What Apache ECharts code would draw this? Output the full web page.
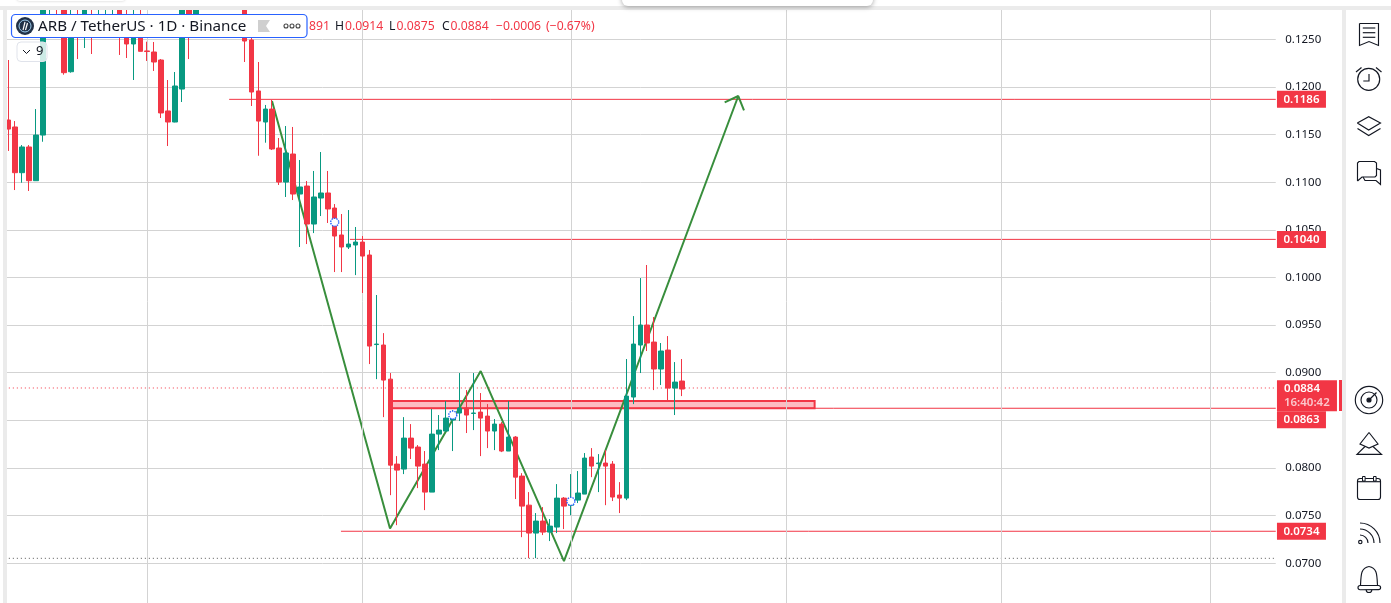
<!DOCTYPE html>
<html>
<head>
<meta charset="utf-8">
<style>html,body{margin:0;padding:0;background:#fff;overflow:hidden}#c{width:1391px;height:603px}</style>
<script src="https://cdn.jsdelivr.net/npm/echarts@6/dist/echarts.min.js"></script>
</head>
<body>
<div id="c"></div>
<script>
// [open, close, low, high], one per daily bar
const candles = [
[.11653,.11558,.11328,.12283],[.11580,.11100,.10918,.11642],[.11100,.11370,.10995,.11390],[.11370,.11016,.10908,.11390],
[.11016,.11495,.11016,.11768],[.11495,.12900,.11425,.12950],[.12577,.12703,.12535,.12829],[.12703,.12598,.12535,.12860],
[.12892,.12150,.12129,.12913],[.12160,.12703,.12150,.12860],[.12745,.12535,.12293,.12860],[.12535,.12892,.12409,.12913],
[.12724,.12556,.12346,.12860],[.12598,.12724,.12535,.12860],[.12588,.12714,.12535,.12850],[.12619,.12703,.12546,.12808],
[.12882,.12556,.12336,.12900],[.12703,.12451,.12304,.12860],[.12451,.12703,.12073,.12860],[.12703,.12374,.12374,.12829],
[.12378,.12372,.12273,.12475],[.12367,.12262,.12168,.12472],[.12283,.11727,.11674,.12293],[.11748,.11632,.11380,.12073],
[.11632,.12010,.11629,.12157],[.11978,.12892,.11842,.12913],[.12892,.12546,.12293,.12913],[.12546,.12892,.12525,.12913],
[.12910,.12950,.12900,.12980],[.12950,.12920,.12900,.12990],[.12920,.12960,.12900,.12990],[.12960,.12930,.12905,.12990],
[.12930,.12950,.12905,.12980],[.12950,.12910,.12900,.12980],
[.12892,.12482,.12262,.12913],[.12493,.11947,.11800,.12514],[.11958,.11642,.11278,.12262],[.11632,.11768,.11415,.11811],
[.11768,.11349,.11338,.11863],[.11359,.11002,.10971,.11464],[.11002,.11307,.10845,.11590],[.11296,.10876,.10813,.11580],
[.10876,.10950,.10320,.11233],[.10960,.10561,.10351,.11013],[.10561,.10845,.10466,.11118],[.10834,.10887,.10645,.11317],
[.10887,.10719,.10572,.11118],[.10729,.10435,.10057,.10771],[.10446,.10320,.10057,.10666],[.10320,.10351,.10299,.10708],
[.10341,.10372,.10025,.10530],[.10372,.10225,.09837,.10435],[.10236,.09280,.09091,.10288],[.09296,.09301,.08933,.09816],
[.09291,.08923,.08534,.09416],[.08933,.08030,.07715,.08997],[.08041,.07978,.07400,.08125],[.07989,.08314,.07936,.08534],
[.08314,.08209,.08094,.08461],[.08220,.08020,.07789,.08241],[.08041,.07747,.07558,.08178],[.07747,.08356,.07747,.08619],
[.08356,.08398,.08188,.08556],[.08388,.08524,.08388,.08703],[.08503,.08577,.08178,.08608],[.08577,.08629,.08493,.08997],
[.08629,.08556,.08367,.08818],[.08573,.08577,.08398,.08997],[.08587,.08524,.08125,.08787],[.08545,.08388,.08209,.08671],
[.08388,.08461,.08188,.08514],[.08461,.08178,.08167,.08482],[.08178,.08325,.08178,.08703],[.08325,.07904,.07674,.08335],
[.07915,.07600,.07274,.07946],[.07610,.07317,.07054,.07747],[.07317,.07443,.07054,.07527],[.07443,.07327,.07296,.07590],
[.07327,.07390,.07233,.07464],[.07380,.07684,.07317,.07831],[.07684,.07600,.07359,.07695],[.07610,.07663,.07505,.07936],
[.07663,.07737,.07632,.07968],[.07726,.08104,.07726,.08157],[.08115,.08020,.07904,.08209],[.08046,.08052,.07747,.08146],
[.08052,.08020,.07610,.08188],[.08041,.07695,.07653,.08073],[.07716,.07684,.07527,.07852],[.07684,.08755,.07663,.09144],
[.08745,.09301,.08671,.09595],[.09291,.09501,.08997,.09994],[.09501,.09312,.09228,.10131],[.09322,.09039,.08818,.09585],
[.09039,.09228,.08871,.09312],[.09238,.08839,.08713,.09385],[.08839,.08902,.08556,.09112],[.08913,.08829,.08755,.09144]
];
const slotCount = 183;
const monthStartBars = [20, 51, 81, 112, 143, 173];
const zigzagBars = [37.97, 54.96, 68.02, 80.01, 105.11];
const zigzagPrices = [.11853, .07366, .09018, .07023, .11905];
const arrowBars = [103.15, 105.11, 105.93];
const arrowPrices = [.11839, .11905, .11755];
const levelPrices = [.1187, .1040, .08627, .07336];
const levelStartBars = [31.8, 49.2, 55.2, 47.9];
const levelTexts = ['0.1186', '0.1040', '0.0863', '0.0734'];
const zoneBars = [55.2, 116.1];
const zonePrices = [.08704, .08627];
const lastPrice = .0884;
const lowDotted = .07052;
const dotBars = [47, 64, 81];
const dotPrices = [.1058, .08556, .0765];

const RED = '#f23645', GREEN = '#089981', INK = '#131722';
const FONT = '"Noto Sans", sans-serif';
const xMin = -0.5, xMax = slotCount - 0.5;
const tagBar = 186.2; // centre of the price tags, in bar units beyond the right edge

const chart = echarts.init(document.getElementById('c'), null, {renderer: 'canvas'});

const overlayLine = (bars, prices, color, width, extra) => Object.assign({
  type: 'line', xAxisIndex: 1, yAxisIndex: 0, data: bars.map((b, i) => [b, prices[i]]),
  showSymbol: false, symbol: 'none', silent: true, animation: false, z: 2,
  lineStyle: {color, width}
}, extra || {});

const levelSeries = levelPrices.map((p, i) =>
  overlayLine([levelStartBars[i], xMax], [p, p], RED, 1));

const dotted = (p, color) => overlayLine([xMin, xMax], [p, p], color, 1,
  {lineStyle: {color, width: 1, type: [1, 3]}});

const tagSeries = (val, text, offset) => ({
  type: 'scatter', xAxisIndex: 1, yAxisIndex: 0, clip: false, silent: true, animation: false, z: 20,
  data: [[tagBar, val]], symbol: 'rect', symbolSize: [49, 17], symbolOffset: offset,
  itemStyle: {color: RED, opacity: 1},
  label: {show: true, position: 'inside', formatter: text, color: '#fff', fontFamily: FONT, fontSize: 11.5, fontWeight: 600}
});

const G = [];
const rect = (x, y, w, h, fill, o) => G.push(Object.assign({type: 'rect', z: 100, silent: true,
  shape: {x, y, width: w, height: h, r: (o && o.r) || 0},
  style: Object.assign({fill}, (o && o.style) || {})}));
const text = (x, y, t, color, size, o) => G.push({type: 'text', z: 102, silent: true, x, y,
  style: Object.assign({text: t, fill: color, font: `${(o && o.weight) || 400} ${size}px ${FONT}`, textVerticalAlign: 'middle', textAlign: 'left'}, (o && o.style) || {})});
const stroke = {stroke: INK, lineWidth: 1.15, fill: 'none'};
const pl = (pts, st) => G.push({type: 'polyline', z: 101, silent: true, shape: {points: pts}, style: Object.assign({}, stroke, st || {})});
const circ = (cx, cy, r, st) => G.push({type: 'circle', z: 101, silent: true, shape: {cx, cy, r}, style: Object.assign({}, stroke, st || {})});
const arc = (cx, cy, r, a, b, st) => G.push({type: 'arc', z: 101, silent: true, shape: {cx, cy, r, startAngle: a, endAngle: b, clockwise: true}, style: Object.assign({}, stroke, st || {})});
const bez = (x1, y1, cpx1, cpy1, cpx2, cpy2, x2, y2) => G.push({type: 'bezierCurve', z: 101, silent: true, shape: {x1, y1, cpx1, cpy1, cpx2, cpy2, x2, y2}, style: Object.assign({}, stroke)});

// window chrome
rect(0, 0, 1391, 6, '#fff');
rect(0, 6, 1391, 4, '#ebebeb');
rect(0, 10, 3, 593, '#fff');
rect(3, 6, 4, 597, '#ebebeb');
rect(1342, 6, 4, 597, '#ebebeb');
rect(1346, 10, 45, 593, '#fff');
rect(622, -12, 251, 18, '#fff', {r: 6, style: {shadowBlur: 5, shadowColor: 'rgba(0,0,0,.35)', shadowOffsetY: 1}});
rect(17, -5, 108, 6, '#fff', {r: 4, style: {shadowBlur: 3, shadowColor: 'rgba(0,0,0,.2)'}});

// legend
rect(11.5, 14.5, 295.5, 23, '#fff', {r: 4, style: {stroke: '#2962ff', lineWidth: 1.2}});
circ(25, 26, 9, {fill: '#213147', stroke: 'none'});
circ(25, 26, 6, {fill: 'none', stroke: '#9dcced', lineWidth: 1});
pl([[23, 30], [25, 22]], {stroke: '#fff', lineWidth: 1.2});
pl([[25.5, 30], [27.5, 23]], {stroke: '#fff', lineWidth: 1.2});
text(38, 26.5, 'ARB / TetherUS · 1D · Binance', INK, 15.2);
G.push({type: 'polygon', z: 101, silent: true, shape: {points: [[258, 20], [270, 20], [266, 26], [270, 32], [258, 32]]}, style: {fill: '#cfcfcf'}});
[286, 292, 298].forEach(x => circ(x, 26, 2, {stroke: '#444', lineWidth: 1.1}));
text(309, 26.5, '891', RED, 12.2);
text(335, 26.5, 'H', INK, 12.2);
text(345, 26.5, '0.0914', RED, 12.2);
text(389, 26.5, 'L', INK, 12.2);
text(396.5, 26.5, '0.0875', RED, 12.2);
text(442, 26.5, 'C', INK, 12.2);
text(450.5, 26.5, '0.0884', RED, 12.2);
text(496, 26.5, '−0.0006', RED, 12.2);
text(546, 26.5, '(−0.67%)', RED, 12.2);

// collapsed indicators button
rect(17, 42, 30, 19.5, 'rgba(255,255,255,.8)', {r: 4, style: {stroke: '#e0e3eb', lineWidth: 1}});
pl([[23, 50], [26.5, 53.5], [30, 50]], {lineWidth: 1});
text(36, 51.5, '9', INK, 13);

// countdown strip end
rect(1339, 380, 3, 31, RED);

// right toolbar icons
pl([[1359.5, 23.5], [1378.5, 23.5], [1378.5, 45.5], [1369, 41.5], [1359.5, 45.5], [1359.5, 23.5]]);
[28, 32.7, 37.3].forEach(y => pl([[1362.8, y], [1375.3, y]]));
circ(1368.7, 79.3, 11);
pl([[1369, 74], [1369, 81], [1363.3, 81]]);
pl([[1356, 72], [1361.5, 67.5]]);
pl([[1376, 67.5], [1381.5, 72]]);
pl([[1357.3, 123], [1368.7, 116.7], [1380.5, 123], [1368.7, 130], [1357.3, 123]]);
pl([[1357.5, 128.5], [1368.7, 135.5], [1380.5, 128.5]]);
pl([[1357.5, 181], [1357.5, 163], [1359, 161.5], [1374.5, 161.5], [1376.5, 163], [1376.5, 175.5], [1375, 177], [1362, 177], [1357.5, 181]]);
pl([[1376.5, 168.5], [1380.5, 170], [1380.5, 184.5], [1376, 180.5], [1365, 180.5], [1363, 177]]);
circ(1369, 400, 13.7);
circ(1369, 400, 8);
circ(1369, 400, 2, {fill: INK});
pl([[1369, 400], [1376.5, 392.5]]);
pl([[1369, 432.5], [1378, 444], [1369, 448], [1360, 444], [1369, 432.5]]);
pl([[1365, 446.5], [1357, 454.3], [1381.5, 454.3], [1373, 446.5]]);
rect(1357.5, 478.5, 23, 21, 'none', {r: 2.5, style: {stroke: INK, lineWidth: 1.15}});
pl([[1357.5, 481.7], [1380.5, 481.7]]);
rect(1362.5, 476.5, 2.6, 4.5, '#fff', {style: {stroke: INK, lineWidth: 1}});
rect(1373.5, 476.5, 2.6, 4.5, '#fff', {style: {stroke: INK, lineWidth: 1}});
circ(1360.3, 542, 1.7);
arc(1360, 543, 8, -Math.PI / 2, 0);
arc(1360, 543, 14, -Math.PI / 2, 0);
arc(1360, 543, 20, -Math.PI / 2, 0);
bez(1360.5, 585.5, 1361, 574, 1361, 568, 1369, 566.5);
bez(1369, 566.5, 1377, 568, 1377, 574, 1377.5, 585.5);
rect(1358, 585.5, 22.6, 4.2, 'none', {r: 2.1, style: {stroke: INK, lineWidth: 1.15}});
arc(1369, 589.7, 2.8, 0, Math.PI);

chart.setOption({
  animation: false,
  backgroundColor: '#fff',
  grid: {left: 4.83, width: slotCount * 6.945, top: -8.3, height: 619.2, containLabel: false, outerBoundsMode: 'none'},
  xAxis: [
    {type: 'category', data: Array.from({length: slotCount}, (_, i) => i), show: false, boundaryGap: true},
    {type: 'value', min: xMin, max: xMax, show: false, splitLine: {show: false}}
  ],
  yAxis: [{
    type: 'value', position: 'right', min: 0.065, max: 0.13, interval: 0.005, scale: true,
    axisLine: {show: false}, axisTick: {show: false},
    splitLine: {show: true, lineStyle: {color: '#d3d3d3', width: 1}},
    axisLabel: {margin: 9.5, color: INK, fontFamily: FONT, fontSize: 11.5, formatter: v => v.toFixed(4)}
  }],
  graphic: {elements: G},
  series: [
    {type: 'line', xAxisIndex: 1, yAxisIndex: 0, data: [], silent: true, z: 1, animation: false,
      markLine: {silent: true, symbol: 'none', animation: false, label: {show: false},
        lineStyle: {color: '#d3d3d3', width: 1, type: 'solid'},
        data: monthStartBars.map(b => ({xAxis: b}))}},
    dotted(lastPrice, RED),
    dotted(lowDotted, '#555'),
    ...levelSeries,
    {type: 'line', xAxisIndex: 1, yAxisIndex: 0, data: [], silent: true, z: 2, animation: false,
      markArea: {silent: true, animation: false, label: {show: false},
        itemStyle: {color: '#fdbcc1', borderColor: RED, borderWidth: 2},
        data: [[{xAxis: zoneBars[0], yAxis: zonePrices[0]}, {xAxis: zoneBars[1], yAxis: zonePrices[1]}]]}},
    overlayLine(zigzagBars, zigzagPrices, '#388e3c', 2, {z: 3}),
    overlayLine(arrowBars, arrowPrices, '#388e3c', 2, {z: 3}),
    {type: 'candlestick', xAxisIndex: 0, yAxisIndex: 0, data: candles, barWidth: 5, silent: true, animation: false, z: 5,
      itemStyle: {color: GREEN, color0: RED, borderColor: GREEN, borderColor0: RED, borderWidth: 1}},
    {type: 'scatter', xAxisIndex: 0, yAxisIndex: 0, silent: true, animation: false, z: 8,
      data: dotBars.map((b, i) => [b, dotPrices[i]]), symbol: 'circle', symbolSize: 8,
      itemStyle: {color: '#fff', opacity: 1, borderColor: '#2962ff', borderWidth: 1.4, borderType: [1.5, 1]}},
    tagSeries(levelPrices[0], levelTexts[0], [0, 0]),
    tagSeries(levelPrices[1], levelTexts[1], [0, 0]),
    tagSeries(levelPrices[3], levelTexts[3], [0, 0]),
    tagSeries(levelPrices[2], levelTexts[2], [0, 11.5]),
    {type: 'scatter', xAxisIndex: 1, yAxisIndex: 0, clip: false, silent: true, animation: false, z: 21,
      data: [[tagBar, lastPrice]], symbol: 'rect', symbolSize: [60, 31], symbolOffset: [5.5, 7.7],
      itemStyle: {color: RED, opacity: 1},
      label: {show: true, position: 'inside', align: 'center', fontFamily: FONT,
        formatter: '{a|0.0884}\n{b|16:40:42}',
        rich: {
          a: {color: '#fff', fontFamily: FONT, fontSize: 11.5, fontWeight: 600, lineHeight: 14, width: 46, align: 'left'},
          b: {color: 'rgba(255,255,255,.72)', fontFamily: FONT, fontSize: 11.5, fontWeight: 600, lineHeight: 14, width: 46, align: 'left'}
        }}}
  ]
});
</script>
</body>
</html>
